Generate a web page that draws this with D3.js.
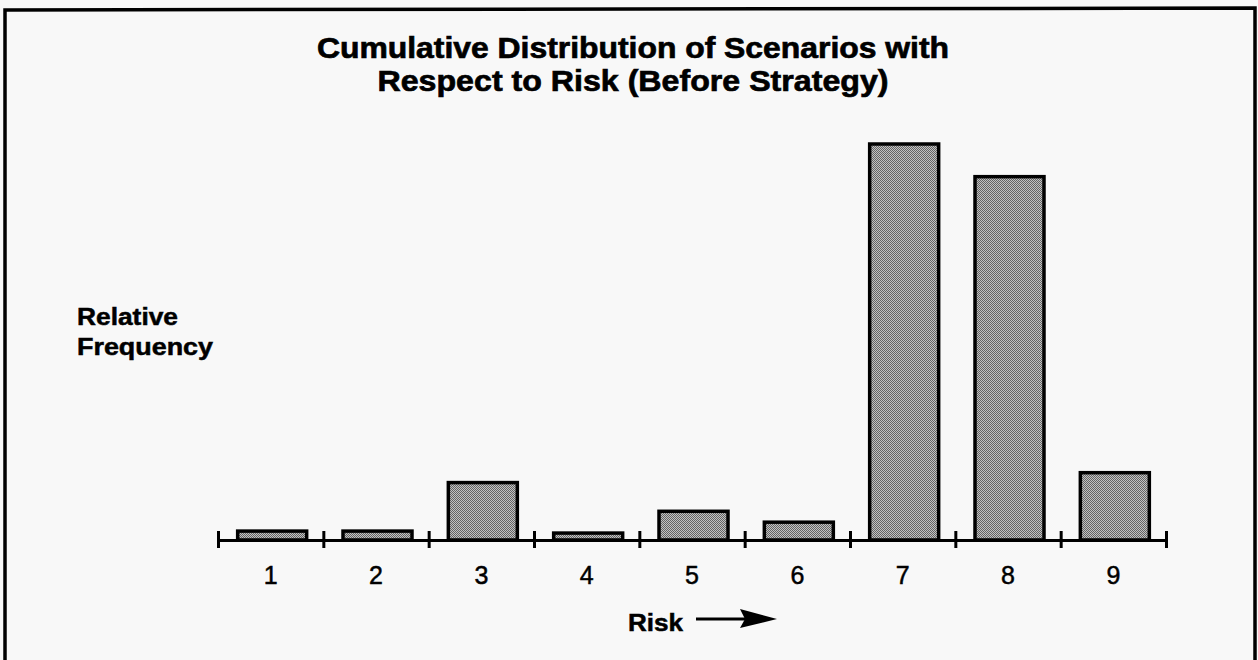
<!DOCTYPE html>
<html>
<head>
<meta charset="utf-8">
<script src="https://cdnjs.cloudflare.com/ajax/libs/d3/7.8.5/d3.min.js"></script>
<style>
  html, body { margin: 0; padding: 0; background: #f8f8f8; }
  svg { display: block; }
</style>
</head>
<body>
<div id="chart"></div>
<script>
// Risk classes along the horizontal axis
const riskLevels = ["1", "2", "3", "4", "5", "6", "7", "8", "9"];
// Relative frequency of scenarios in each risk class (percent)
const frequencies = [0.9, 0.9, 5.8, 0.7, 2.9, 1.8, 40.0, 36.7, 6.8];
// Title lines
const titleLines = ["Cumulative Distribution of Scenarios with", "Respect to Risk (Before Strategy)"];
const yLabelLines = ["Relative", "Frequency"];
const xLabel = "Risk";

const W = 1258, H = 660;
const axisY = 540;
const FONT = "Liberation Sans, Arial, sans-serif";

const svg = d3.select("#chart").append("svg")
  .attr("width", W).attr("height", H);

svg.append("rect").attr("width", W).attr("height", H).attr("fill", "#f8f8f8");

// halftone-like fill for the bars
const defs = svg.append("defs");
const pat = defs.append("pattern")
  .attr("id", "dither").attr("patternUnits", "userSpaceOnUse")
  .attr("width", 2).attr("height", 2);
pat.append("rect").attr("width", 2).attr("height", 2).attr("fill", "#c2c2c2");
pat.append("rect").attr("x", 0).attr("y", 0).attr("width", 1).attr("height", 1).attr("fill", "#646464");
pat.append("rect").attr("x", 1).attr("y", 1).attr("width", 1).attr("height", 1).attr("fill", "#646464");

// outer frame
svg.append("path")
  .attr("d", "M5,662 L5,10 L1255,8 L1255,662")
  .attr("fill", "none").attr("stroke", "#000").attr("stroke-width", 3.5);

// title
svg.append("g").selectAll("text").data(titleLines).join("text")
  .attr("x", 633).attr("y", (d, i) => 58 + i * 33)
  .attr("text-anchor", "middle")
  .attr("font-family", FONT)
  .attr("font-weight", "bold").attr("font-size", 30)
  .attr("textLength", (d, i) => i === 0 ? 632 : 511)
  .attr("lengthAdjust", "spacingAndGlyphs")
  .attr("fill", "#000").attr("stroke", "#000").attr("stroke-width", 0.7)
  .text(d => d);

// scales
const x = d3.scaleBand().domain(riskLevels).range([218, 1166])
  .paddingInner(0.345).paddingOuter(0.1725);
const y = d3.scaleLinear().domain([0, 40.0]).range([axisY, 144]);
const xEdge = d3.scaleLinear().domain([0, riskLevels.length]).range([218, 1166]);

// bars
svg.append("g").selectAll("rect").data(frequencies).join("rect")
  .attr("x", (d, i) => x(riskLevels[i]) + 1.5)
  .attr("y", d => y(d))
  .attr("width", x.bandwidth())
  .attr("height", d => axisY - y(d))
  .attr("fill", "url(#dither)")
  .attr("stroke", "#000").attr("stroke-width", 3.5);

// axis with ticks at class boundaries
const axis = svg.append("g").attr("transform", `translate(0,${axisY})`)
  .call(d3.axisBottom(xEdge).tickValues(d3.range(riskLevels.length + 1)).tickFormat("").tickSizeOuter(0));
axis.select(".domain").attr("stroke", "#000").attr("stroke-width", 3);
axis.selectAll(".tick line").attr("y1", -9).attr("y2", 8)
  .attr("stroke", "#000").attr("stroke-width", 3);

// category labels
const labAxis = svg.append("g").attr("transform", `translate(0,${axisY})`)
  .call(d3.axisBottom(x).tickSize(0).tickPadding(0));
labAxis.select(".domain").remove();
labAxis.selectAll(".tick text")
  .attr("y", 44).attr("dy", 0)
  .attr("font-family", FONT)
  .attr("font-size", 25).attr("fill", "#000")
  .attr("stroke", "#000").attr("stroke-width", 0.5);

// y-axis label
svg.append("g").selectAll("text").data(yLabelLines).join("text")
  .attr("x", 77).attr("y", (d, i) => 325 + i * 30)
  .attr("font-family", FONT)
  .attr("font-weight", "bold").attr("font-size", 23.5)
  .attr("textLength", (d, i) => i === 0 ? 101 : 136)
  .attr("lengthAdjust", "spacingAndGlyphs")
  .attr("fill", "#000").attr("stroke", "#000").attr("stroke-width", 0.5)
  .text(d => d);

// x-axis label with arrow
svg.append("text")
  .attr("x", 628).attr("y", 631)
  .attr("font-family", FONT)
  .attr("font-weight", "bold").attr("font-size", 23.5)
  .attr("textLength", 55).attr("lengthAdjust", "spacingAndGlyphs")
  .attr("fill", "#000").attr("stroke", "#000").attr("stroke-width", 0.5)
  .text(xLabel);
svg.append("line")
  .attr("x1", 696).attr("x2", 748).attr("y1", 619).attr("y2", 619)
  .attr("stroke", "#000").attr("stroke-width", 3);
svg.append("path")
  .attr("d", "M740,609 L777,619 L740,628 L745,619 Z")
  .attr("fill", "#000");
</script>
</body>
</html>
